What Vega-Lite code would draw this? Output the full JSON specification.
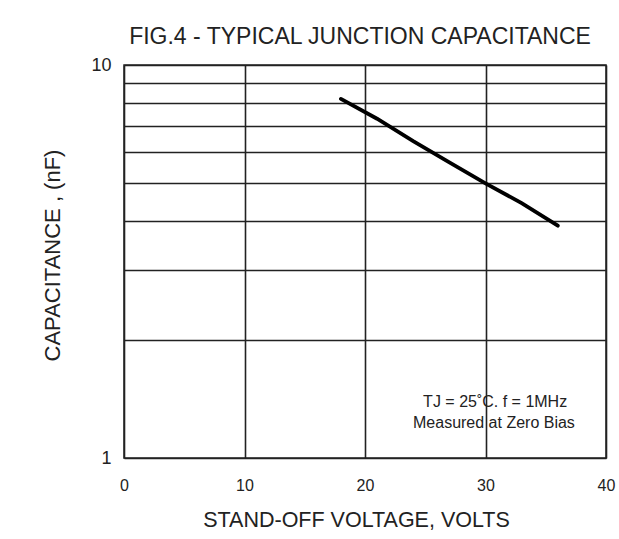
{
  "$schema": "https://vega.github.io/schema/vega-lite/v6.json",
  "width": 482,
  "height": 393,
  "autosize": {"type": "none"},
  "padding": {"left": 124, "top": 65, "right": 13, "bottom": 81},
  "background": "white",
  "config": {
    "font": "Liberation Sans",
    "view": {"stroke": "#222222", "strokeWidth": 1.5}
  },
  "title": {
    "text": "FIG.4 - TYPICAL JUNCTION CAPACITANCE",
    "fontSize": 23,
    "fontWeight": "normal",
    "color": "#222222",
    "anchor": "middle",
    "dx": -5,
    "offset": 7
  },
  "datasets": {
    "curve": [
      {"v": 18, "c": 8.2},
      {"v": 21, "c": 7.3},
      {"v": 24, "c": 6.4},
      {"v": 27, "c": 5.65},
      {"v": 30, "c": 5.0},
      {"v": 33, "c": 4.45},
      {"v": 36, "c": 3.9}
    ],
    "notes": [
      {"v": 30.8, "c": 1.388, "t": "TJ = 25˚C. f = 1MHz"},
      {"v": 30.7, "c": 1.228, "t": "Measured at Zero Bias"}
    ]
  },
  "layer": [
    {
      "data": {"name": "curve"},
      "mark": {"type": "line", "color": "black", "strokeWidth": 3.8, "strokeCap": "round"},
      "encoding": {
        "x": {
          "field": "v", "type": "quantitative",
          "scale": {"domain": [0, 40], "nice": false, "zero": false},
          "axis": {
            "values": [0, 10, 20, 30, 40],
            "title": "STAND-OFF VOLTAGE, VOLTS",
            "titleFontSize": 21.5, "titleFontWeight": "normal", "titleColor": "#222222",
            "titleBaseline": "middle", "titleY": 62, "titleX": 232,
            "labelFontSize": 16, "labelColor": "#222222", "labelPadding": 19,
            "labelFlush": false,
            "ticks": false, "domain": false,
            "grid": true, "gridColor": "#222222", "gridWidth": 1.6, "gridOpacity": 1
          }
        },
        "y": {
          "field": "c", "type": "quantitative",
          "scale": {"type": "log", "domain": [1, 10], "nice": false},
          "axis": {
            "values": [1, 2, 3, 4, 5, 6, 7, 8, 9, 10],
            "labelExpr": "datum.value == 1 || datum.value == 10 ? datum.label : ''",
            "title": "CAPACITANCE , (nF)",
            "titleFontSize": 22, "titleFontWeight": "normal", "titleColor": "#222222",
            "titleBaseline": "middle", "titleX": -72, "titleY": 190,
            "labelFontSize": 18, "labelColor": "#222222", "labelPadding": 13,
            "labelFlush": false,
            "ticks": false, "domain": false,
            "grid": true, "gridColor": "#222222", "gridWidth": 1.6, "gridOpacity": 1
          }
        }
      }
    },
    {
      "data": {"name": "notes"},
      "mark": {"type": "text", "fontSize": 16, "color": "#222222", "align": "center", "baseline": "middle"},
      "encoding": {
        "x": {"field": "v", "type": "quantitative"},
        "y": {"field": "c", "type": "quantitative"},
        "text": {"field": "t"}
      }
    }
  ]
}
